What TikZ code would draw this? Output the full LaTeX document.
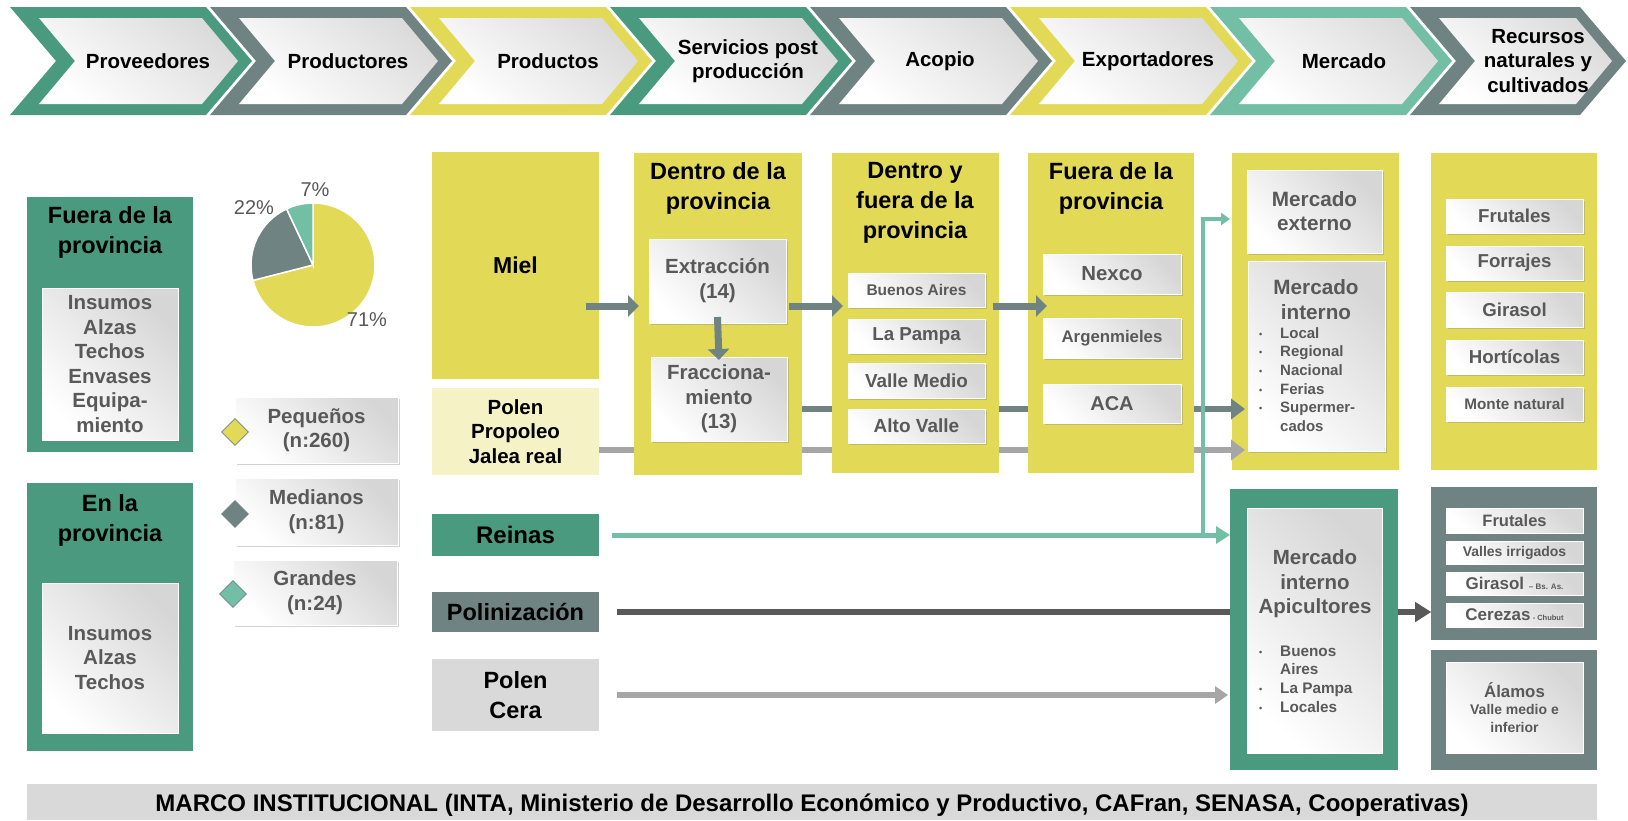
\documentclass[tikz,border=0pt]{standalone}
\usepackage{fontspec}
\setmainfont{Liberation Sans}
\usetikzlibrary{shapes.geometric,arrows.meta,shadows,fit,calc}
\definecolor{greenC}{RGB}{74,154,128}
\definecolor{grayC}{RGB}{111,131,131}
\definecolor{yellowC}{RGB}{226,218,87}
\definecolor{tealC}{RGB}{114,191,165}
\definecolor{lyellowC}{RGB}{245,242,198}
\definecolor{lgrayC}{RGB}{217,217,217}
\definecolor{darkC}{RGB}{89,89,89}
\definecolor{agrayC}{RGB}{166,166,166}
\definecolor{txtC}{RGB}{89,89,89}
\newcommand\fs[2]{\fontsize{#1}{#2}\selectfont}
\newcommand\bul{\makebox[21pt][l]{\raisebox{1pt}{\fs{9}{9}\textbullet}}}
\newcommand\bxe[6]{\node[#2, fit={(#3,#4) (#5,#6)}] (#1) {};}
\newcommand\bx[8]{\node[#2, fit={(#3,#4) (#5,#6)}] (#1) {};
  \node[#7] (#1t) at (#1.center) {#8};}
\newcommand\chev[6]{%
 \path[fill=#3] (#1,7) -- (#1+#2,7) -- (#1+#2+46,61) -- (#1+#2,115) -- (#1,115) -- (#1+46,61) -- cycle;
 \path[chevin] (#1+29,18) -- (#1+#2-4,18) -- (#1+#2+32,61) -- (#1+#2-4,104) -- (#1+29,104) -- (#1+65,61) -- cycle;
 \node[chevlbl] (#4) at (#1+#6,61) {#5};}
\pgfdeclarelayer{back}
\pgfdeclarelayer{bg}
\pgfsetlayers{back,bg,main}
\tikzset{
 chevin/.style={top color=black!14, bottom color=white, shading angle=-40},
 chevlbl/.style={font=\fs{20.5}{24.5}\bfseries, align=center, text=black, inner sep=0pt},
 colbox/.style={inner sep=0pt, outer sep=0pt, draw=none},
 ttl/.style={font=\fs{23.5}{30}\bfseries, align=center, text=black, inner sep=0pt},
 wb/.style={draw=white, line width=0.6pt, top color=black!16, bottom color=white, shading angle=-45,
   drop shadow={opacity=0.35, shadow xshift=1.5pt, shadow yshift=-1.5pt}, inner sep=0pt, outer sep=0pt},
 txt/.style={align=center, inner sep=0pt, text=txtC},
 ptxt/.style={align=center, inner sep=0pt, text=black},
 dia/.style={diamond, draw=grayC, line width=0.8pt, minimum size=27pt, inner sep=0pt},
 pct/.style={font=\fs{20}{20}, text=txtC, inner sep=0pt},
 blist/.style={anchor=west, align=left, inner sep=0pt, text=txtC},
 garr/.style={line width=7pt, draw=grayC, -{Triangle[length=11pt,width=21pt]}},
 grline/.style={line width=6.5pt, draw=grayC, -{Triangle[length=14pt,width=20pt]}},
 gyline/.style={line width=6pt, draw=agrayC, -{Triangle[length=14pt,width=20pt]}},
 dline/.style={line width=6pt, draw=darkC, -{Triangle[length=16pt,width=19pt]}},
 pline/.style={line width=5.5pt, draw=agrayC, -{Triangle[length=13pt,width=17pt]}},
 tline/.style={line width=5pt, draw=tealC, -{Triangle[length=14pt,width=17pt]}},
 tline2/.style={line width=4.5pt, draw=tealC, -{Triangle[length=9pt,width=12pt]}},
}
\begin{document}
\begin{tikzpicture}[x=1pt,y=-1pt]
\useasboundingbox (0,0) rectangle (1628,820);
\begin{pgfonlayer}{back}
\fill[white] (0,0) rectangle (1628,820);
\end{pgfonlayer}

% top chevrons
\chev{10}{196}{greenC}{c1}{Proveedores}{138}
\chev{210}{196}{grayC}{c2}{Productores}{138}
\chev{410}{196}{yellowC}{c3}{Productos}{138}
\chev{610}{196}{greenC}{c4}{Servicios post\\producción}{138}
\chev{810}{196}{grayC}{c5}{Acopio}{130}
\chev{1010}{196}{yellowC}{c6}{Exportadores}{138}
\chev{1210}{196}{tealC}{c7}{Mercado}{134}
\chev{1410}{170}{grayC}{c8}{Recursos\\naturales y\\cultivados}{128}

% left column
\bxe{fp}{colbox, fill=greenC}{27}{197}{193}{452}
\node[ttl] (fpt) at (110,232) {Fuera de la\\provincia};
\bx{fpi}{wb}{42}{288}{178}{440}{txt, font=\fs{20.5}{24.6}\bfseries}{Insumos\\Alzas\\Techos\\Envases\\Equipa-\\miento}
\bxe{ep}{colbox, fill=greenC}{27}{483}{193}{751}
\node[ttl] (ept) at (110,520) {En la\\provincia};
\bx{epi}{wb}{42}{583}{178}{733}{txt, font=\fs{20.5}{24.6}\bfseries}{Insumos\\Alzas\\Techos}

% pie
\begin{scope}[shift={(313,265)}, x=1pt, y=1pt]
 \path[fill=yellowC, draw=white, line width=1.5pt] (0,0) -- (90:62) arc[start angle=90, end angle=-165.6, radius=62] -- cycle;
 \path[fill=grayC, draw=white, line width=1.5pt] (0,0) -- (194.4:62) arc[start angle=194.4, end angle=115.2, radius=62] -- cycle;
 \path[fill=tealC, draw=white, line width=1.5pt] (0,0) -- (115.2:62) arc[start angle=115.2, end angle=90, radius=62] -- cycle;
\end{scope}
\node[pct] (p7) at (315,190) {7\%};
\node[pct] (p22) at (254,208) {22\%};
\node[pct] (p71) at (367,320) {71\%};

% legend
\bx{peq}{wb}{235}{397}{398}{463}{txt, font=\fs{20.5}{24.5}\bfseries}{Pequeños\\(n:260)}
\node[dia, fill=yellowC] (dpeq) at (235,432) {};
\bx{med}{wb}{235}{478}{398}{545}{txt, font=\fs{20.5}{24.5}\bfseries}{Medianos\\(n:81)}
\node[dia, fill=grayC] (dmed) at (235,514) {};
\bx{gra}{wb}{233}{560}{397}{625}{txt, font=\fs{20.5}{24.5}\bfseries}{Grandes\\(n:24)}
\node[dia, fill=tealC] (dgra) at (233,594) {};

% products
\bx{miel}{colbox, fill=yellowC}{432}{152}{599}{379}{ptxt, font=\fs{23}{28}\bfseries}{Miel}
\bx{ppj}{colbox, fill=lyellowC}{432}{388}{599}{475}{ptxt, font=\fs{20.5}{24.6}\bfseries}{Polen\\Propoleo\\Jalea real}
\bx{rei}{colbox, fill=greenC}{432}{514}{599}{556}{ptxt, font=\fs{24}{28}\bfseries}{Reinas}
\bx{pol}{colbox, fill=grayC}{432}{592}{599}{632}{ptxt, font=\fs{23.5}{28}\bfseries}{Polinización}
\bx{pc}{colbox, fill=lgrayC}{432}{659}{599}{731}{ptxt, font=\fs{23.5}{29.5}\bfseries}{Polen\\Cera}

% Dentro de la provincia
\bxe{dcol}{colbox, fill=yellowC}{634}{153}{802}{475}
\node[ttl] (dcolt) at (718,188) {Dentro de la\\provincia};
\bx{ext}{wb}{649}{239}{786}{323}{txt, font=\fs{20.5}{25}\bfseries}{Extracción\\(14)}
\bx{fra}{wb}{651}{357}{787}{441}{txt, font=\fs{20.5}{24.5}\bfseries}{Fracciona-\\miento\\(13)}

% Dentro y fuera
\bxe{dfcol}{colbox, fill=yellowC}{832}{153}{999}{473}
\node[ttl] (dfcolt) at (915,203) {Dentro y\\fuera de la\\provincia};
\bx{ba}{wb}{848}{273}{985}{307}{txt, font=\fs{15.5}{18}\bfseries}{Buenos Aires}
\bx{lp}{wb}{848}{319}{985}{353}{txt, font=\fs{18.7}{20}\bfseries}{La Pampa}
\bx{vm}{wb}{848}{363}{985}{398}{txt, font=\fs{18.9}{20}\bfseries}{Valle Medio}
\bx{av}{wb}{848}{409}{985}{443}{txt, font=\fs{19}{20}\bfseries}{Alto Valle}

% Fuera de la provincia
\bxe{fcol}{colbox, fill=yellowC}{1028}{153}{1194}{473}
\node[ttl] (fcolt) at (1111,188) {Fuera de la\\provincia};
\bx{nex}{wb}{1043}{254}{1181}{294}{txt, font=\fs{20.4}{22}\bfseries}{Nexco}
\bx{arg}{wb}{1043}{318}{1181}{358}{txt, font=\fs{16.8}{20}\bfseries}{Argenmieles}
\bx{aca}{wb}{1043}{384}{1181}{423}{txt, font=\fs{20}{22}\bfseries}{ACA}

% Mercado
\bxe{mcol}{colbox, fill=yellowC}{1232}{153}{1399}{470}
\bx{mex}{wb}{1247}{170}{1382}{253}{txt, font=\fs{20.7}{24}\bfseries}{Mercado\\externo}
\bxe{mi}{wb}{1248}{261}{1385}{451}
\node[txt, font=\fs{20.7}{25}\bfseries] (mit) at (1316,299.5) {Mercado\\interno};
\node[blist, font=\fs{15}{18.6}\bfseries] (mil) at (1259,379.5) {\bul Local\\\bul Regional\\\bul Nacional\\\bul Ferias\\\bul Supermer-\\\hspace*{21pt}cados};

% Recursos
\bxe{rcol}{colbox, fill=yellowC}{1431}{153}{1597}{470}
\bx{fru}{wb}{1446}{199}{1583}{233}{txt, font=\fs{18.7}{20}\bfseries}{Frutales}
\bx{forr}{wb}{1446}{246}{1583}{280}{txt, font=\fs{18.7}{20}\bfseries}{Forrajes}
\bx{gir}{wb}{1446}{292}{1583}{327}{txt, font=\fs{18.7}{20}\bfseries}{Girasol}
\bx{hor}{wb}{1446}{340}{1583}{374}{txt, font=\fs{18.7}{20}\bfseries}{Hortícolas}
\bx{mon}{wb}{1446}{387}{1583}{421}{txt, font=\fs{15.3}{18}\bfseries}{Monte natural}

% Apicultores
\bxe{ap}{colbox, fill=greenC}{1230}{489}{1398}{770}
\bxe{api}{wb}{1247}{508}{1382}{753}
\node[txt, font=\fs{20.5}{24.5}\bfseries] (apt) at (1315,584) {Mercado\\interno\\Apicultores};
\node[blist, font=\fs{15.3}{18.7}\bfseries] (apl) at (1259,679) {\bul Buenos\\\hspace*{21pt}Aires\\\bul La Pampa\\\bul Locales};

\bxe{rb1}{colbox, fill=grayC}{1431}{487}{1597}{640}
\bx{fr2}{wb}{1446}{508}{1583}{533}{txt, font=\fs{16.5}{18}\bfseries}{Frutales}
\bx{vi}{wb}{1446}{541}{1583}{564}{txt, font=\fs{14}{16}\bfseries}{Valles irrigados}
\bx{gi2}{wb}{1446}{572}{1583}{595}{txt, font=\fs{17}{18}\bfseries}{Girasol {\fs{8}{9}– Bs. As.}}
\bx{cer}{wb}{1446}{603}{1583}{627}{txt, font=\fs{17}{18}\bfseries}{Cerezas{\fs{7.5}{9} - Chubut}}
\bxe{rb2}{colbox, fill=grayC}{1431}{650}{1597}{770}
\bx{ala}{wb}{1446}{662}{1583}{753}{txt, font=\fs{16.8}{17.5}\bfseries}{Álamos\\{\fs{14}{17}\bfseries Valle medio e}\\{\fs{14}{17}\bfseries inferior}}

% bottom bar
\bx{bb}{colbox, fill=lgrayC}{27}{784}{1597}{820}{ptxt, yshift=-3pt, font=\fs{24}{26}\bfseries}{MARCO INSTITUCIONAL (INTA, Ministerio de Desarrollo Económico y Productivo, CAFran, SENASA, Cooperativas)}

% connectors
\coordinate (lv) at (0,306);
\coordinate (lf) at (0,409);
\coordinate (lp) at (0,450);
\coordinate (tb) at (1203,0);
\draw[garr] ($(miel.east|-lv)+(-13,0)$) -- ($(ext.west|-lv)+(-10,0)$);
\draw[garr] ($(ext.east|-lv)+(3,0)$) -- ($(ba.west|-lv)+(-5,0)$);
\draw[garr] ($(ba.east|-lv)+(8,0)$) -- ($(nex.west|-lv)+(4,0)$);
\draw[garr] ($(ext.south)+(0,-6)$) -- ($(fra.north)+(0,3)$);

\begin{pgfonlayer}{bg}
\draw[grline] ($(fra.east|-lf)+(4,0)$) -- ($(mi.west|-lf)+(-3,0)$);
\draw[gyline] (ppj.east|-lp) -- ($(mi.west|-lp)+(-3,0)$);
\draw[dline] ($(pol.east)+(18,0)$) -- (pol.east -| rb1.west);
\end{pgfonlayer}
\draw[grline] (fcol.east|-lf) -- ($(mi.west|-lf)+(-3,0)$);
\draw[gyline] (fcol.east|-lp) -- ($(mi.west|-lp)+(-3,0)$);
\draw[dline] (pol.east -| ap.east) -- (pol.east -| rb1.west);
\draw[pline] ($(pc.east)+(18,0)$) -- ($(pc.east -| ap.west)+(-2,0)$);
\draw[tline] ($(rei.east)+(13,0)$) -- (rei.east -| ap.west);
\draw[tline2] (rei.east -| tb) |- ($(mex.west -| mcol.west)+(-2,7.5)$);
\end{tikzpicture}
\end{document}
